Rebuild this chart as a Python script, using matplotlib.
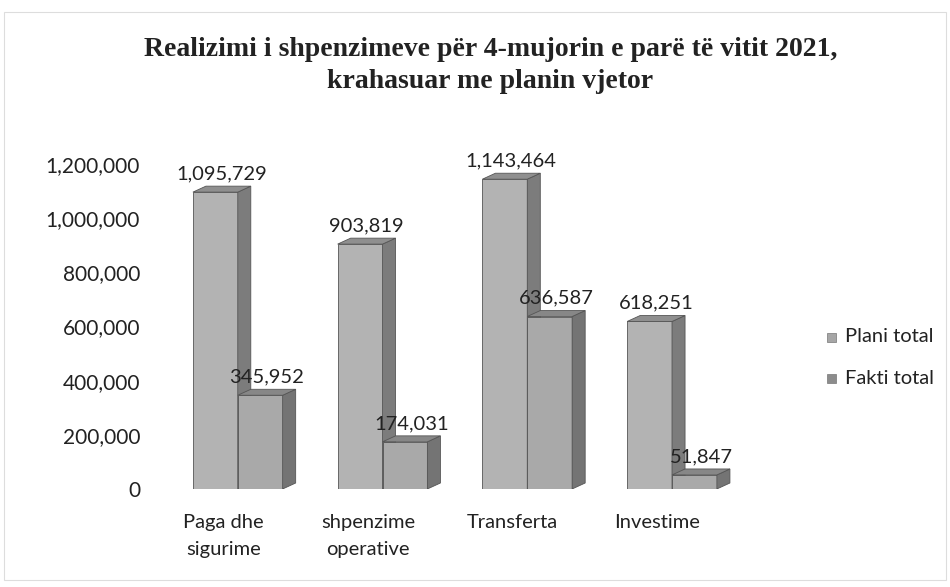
import numpy as np
import matplotlib.pyplot as plt
from matplotlib.patches import Polygon, Rectangle

categories = ['Paga dhe\nsigurime', 'shpenzime\noperative', 'Transferta', 'Investime']
plani = [1095729, 903819, 1143464, 618251]
fakti = [345952, 174031, 636587, 51847]
series_names = ['Plani total', 'Fakti total']

front_cols = ['#b3b3b3', '#a9a9a9']
side_cols = ['#7c7c7c', '#747474']
top_cols = ['#8f8f8f', '#878787']
legend_cols = ['#a6a6a6', '#8c8c8c']

fig = plt.figure(figsize=(9.5, 5.87), dpi=100)
ax = fig.add_axes([0.184, 0.167, 0.595, 0.600])

w = 0.31
dx, dy = 0.09, 22000
x = np.arange(len(categories))


def bar3d(ax, xc, h, i):
    x0, x1 = xc - w / 2, xc + w / 2
    ax.add_patch(Polygon([(x0, 0), (x1, 0), (x1, h), (x0, h)], closed=True,
                         fc=front_cols[i], ec='#555555', lw=0.6, zorder=3 + i))
    ax.add_patch(Polygon([(x1, 0), (x1 + dx, dy), (x1 + dx, h + dy), (x1, h)], closed=True,
                         fc=side_cols[i], ec='#555555', lw=0.6, zorder=3 + i))
    ax.add_patch(Polygon([(x0, h), (x1, h), (x1 + dx, h + dy), (x0 + dx, h + dy)], closed=True,
                         fc=top_cols[i], ec='#555555', lw=0.6, zorder=3 + i))
    ax.text(xc + dx / 2, h + dy + 14000, f'{h:,}', ha='center', va='bottom',
            fontsize=14.5, family='Lato', color='#222222', zorder=10)


for k in range(len(categories)):
    bar3d(ax, x[k] - w / 2, plani[k], 0)
    bar3d(ax, x[k] + w / 2, fakti[k], 1)

ax.set_xlim(-0.435, 3.47)
ax.set_ylim(0, 1300000)
ax.set_yticks(np.arange(0, 1200001, 200000))
ax.set_yticklabels([f'{v:,}' for v in range(0, 1200001, 200000)], family='Lato', fontsize=15)
ax.set_xticks(x - 0.1)
ax.set_xticklabels(categories, family='Lato', fontsize=14.5, linespacing=1.75)
ax.tick_params(axis='both', length=0, colors='#222222')
ax.tick_params(axis='y', pad=25)
ax.tick_params(axis='x', pad=18)
for s in ax.spines.values():
    s.set_visible(False)

# legend
for j, name in enumerate(series_names):
    yc = (587 - 337 - j * 41) / 587
    fig.patches.append(Rectangle((827 / 950, yc - 4.5 / 587), 9 / 950, 9 / 587,
                                 transform=fig.transFigure, fc=legend_cols[j],
                                 ec='#777777', lw=0.5))
    fig.text(845 / 950, yc, name, fontsize=14.5, family='Lato',
             color='#222222', va='center', ha='left')

# faint chart border from the scan
fig.patches.append(Rectangle((0.004, 0.012), 0.992, 0.968, transform=fig.transFigure,
                             fill=False, ec='#dddddd', lw=0.8))

fig.text(0.516, 0.915, 'Realizimi i shpenzimeve për 4-mujorin e parë të vitit 2021,',
         ha='center', va='center', fontsize=20, fontweight='bold',
         family='Liberation Serif', color='#222222')
fig.text(0.516, 0.862, 'krahasuar me planin vjetor', ha='center', va='center',
         fontsize=20, fontweight='bold', family='Liberation Serif', color='#222222')

fig.savefig('out.png', dpi=100)
